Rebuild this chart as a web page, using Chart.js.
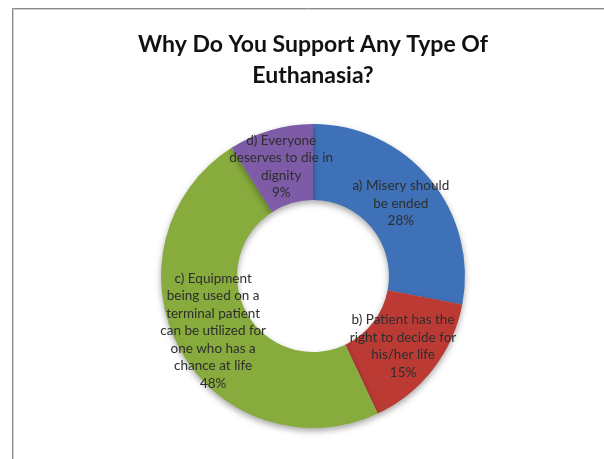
<!DOCTYPE html>
<html>
<head>
<meta charset="utf-8">
<script src="https://cdn.jsdelivr.net/npm/chart.js@4/dist/chart.umd.min.js"></script>
<style>
  html, body { margin: 0; padding: 0; background: #fff; }
  #wrap { width: 604px; height: 459px; }
</style>
</head>
<body>
<div id="wrap"><canvas id="reasonsChart"></canvas></div>
<script>
const reasons = [
  ["a) Misery should", "be ended"],
  ["b) Patient has the", "right to decide for", "his/her life"],
  ["c) Equipment", "being used on a", "terminal patient", "can be utilized for", "one who has a", "chance at life"],
  ["d) Everyone", "deserves to die in", "dignity"]
];
const percents = [28, 15, 48, 9];
const sliceColors = ["#3f71b8", "#bb3a34", "#87ab3c", "#7d5ba6"];

// thin grey frame along the top and left edge
const framePlugin = {
  id: "frame",
  beforeDraw(chart) {
    const c = chart.ctx;
    c.save();
    c.strokeStyle = "#8a8a8a";
    c.lineWidth = 1;
    c.beginPath();
    c.moveTo(12.5, 459);
    c.lineTo(12.5, 8.5);
    c.lineTo(604, 8.5);
    c.stroke();
    c.strokeStyle = "#d0d0d0";
    c.beginPath();
    c.moveTo(13.5, 459);
    c.lineTo(13.5, 9.5);
    c.lineTo(604, 9.5);
    c.stroke();
    c.restore();
  }
};

// soft drop shadow under the ring
const shadowPlugin = {
  id: "ringShadow",
  beforeDatasetsDraw(chart) {
    const c = chart.ctx;
    c.save();
    c.shadowColor = "rgba(0,0,0,0.35)";
    c.shadowBlur = 6;
    c.shadowOffsetY = 3;
  },
  afterDatasetsDraw(chart) {
    chart.ctx.restore();
  }
};

// category text + percentage written in the middle of each slice
const sliceLabels = {
  id: "sliceLabels",
  afterDatasetsDraw(chart) {
    const c = chart.ctx;
    const arcs = chart.getDatasetMeta(0).data;
    c.save();
    c.font = "13.5px Lato";
    c.fillStyle = "#2e2e2e";
    c.textAlign = "center";
    c.textBaseline = "middle";
    const lh = 17.5;
    arcs.forEach((arc, i) => {
      const p = arc.getCenterPoint();
      const lines = reasons[i].concat(percents[i] + "%");
      const top = p.y - (lines.length - 1) * lh / 2;
      lines.forEach((t, j) => c.fillText(t, p.x, top + j * lh));
    });
    c.restore();
  }
};

new Chart(document.getElementById("reasonsChart"), {
  type: "doughnut",
  data: {
    labels: reasons.map(r => r.join(" ")),
    datasets: [{
      data: percents,
      backgroundColor: sliceColors,
      borderWidth: 0
    }]
  },
  options: {
    responsive: true,
    maintainAspectRatio: false,
    animation: false,
    cutout: "50%",
    layout: { padding: { top: 0, bottom: 31, left: 22, right: 0 } },
    plugins: {
      legend: { display: false },
      tooltip: { enabled: false },
      title: {
        display: true,
        text: ["Why Do You Support Any Type Of", "Euthanasia?"],
        color: "#111",
        font: { family: "Lato", size: 23, weight: "bold", lineHeight: 1.35 },
        padding: { top: 29, bottom: 33 }
      }
    }
  },
  plugins: [framePlugin, shadowPlugin, sliceLabels]
});
</script>
</body>
</html>
